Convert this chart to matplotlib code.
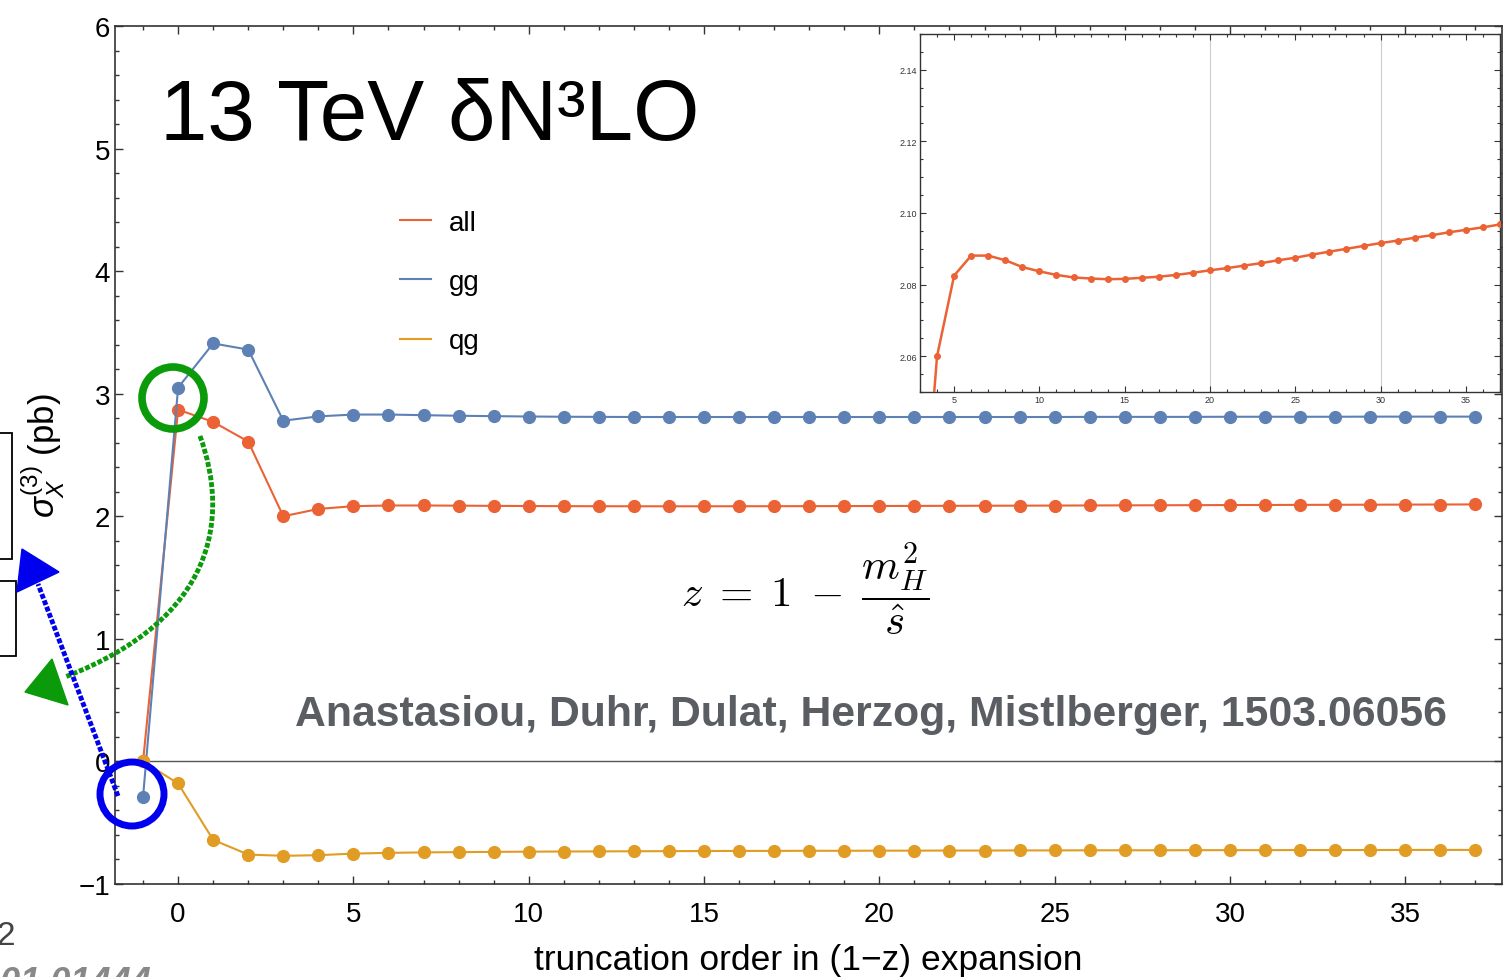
import matplotlib
matplotlib.use('Agg')
import matplotlib.pyplot as plt
from matplotlib.lines import Line2D
from matplotlib.patches import Circle, Polygon, Rectangle, PathPatch
from matplotlib.path import Path
from matplotlib.ticker import MultipleLocator, FormatStrFormatter

# truncation order and cross sections (pb)
orders = list(range(-1, 38))
sigma_all = [0.0, 2.87, 2.77, 2.61, 2.00,
             2.0600, 2.0825, 2.0881, 2.0881, 2.0868, 2.0849, 2.0837, 2.0827, 2.0820, 2.0817,
             2.0815, 2.0816, 2.0819, 2.0822, 2.0827, 2.0833, 2.0840, 2.0846, 2.0853, 2.0860,
             2.0868, 2.0875, 2.0884, 2.0892, 2.0900, 2.0908, 2.0916, 2.0923, 2.0931, 2.0938,
             2.0946, 2.0953, 2.0960, 2.0968]
sigma_gg = [-0.29, 3.05, 3.41, 3.36, 2.78,
            2.815, 2.830, 2.830, 2.825, 2.820, 2.817, 2.814, 2.812, 2.811, 2.810,
            2.810, 2.810, 2.810, 2.810, 2.810, 2.810, 2.810, 2.810, 2.810, 2.810,
            2.810, 2.810, 2.811, 2.811, 2.811, 2.811, 2.812, 2.812, 2.812, 2.812,
            2.813, 2.813, 2.813, 2.813]
sigma_qg = [0.0, -0.18, -0.64, -0.76, -0.77,
            -0.765, -0.752, -0.746, -0.742, -0.740, -0.738, -0.736, -0.735, -0.734, -0.733,
            -0.732, -0.731, -0.730, -0.730, -0.729, -0.729, -0.728, -0.728, -0.727, -0.727,
            -0.726, -0.726, -0.725, -0.725, -0.725, -0.724, -0.724, -0.724, -0.723, -0.723,
            -0.723, -0.722, -0.722, -0.722]
series = [('all', sigma_all, '#EB6235'), ('gg', sigma_gg, '#5E81B5'), ('qg', sigma_qg, '#E19C24')]
inset_start = 4          # index of order 3 in orders
inset_gridlines = [20, 30]

plt.rcParams['font.family'] = ['Liberation Sans', 'DejaVu Sans']
plt.rcParams['mathtext.fontset'] = 'custom'
plt.rcParams['mathtext.rm'] = 'Liberation Sans'
plt.rcParams['mathtext.it'] = 'Liberation Sans:italic'

W, H = 1508, 978
fig = plt.figure(figsize=(W / 100, H / 100), dpi=100)


def px(x, y):
    return x / W, 1 - y / H


def inch(x, y):
    return x / 100, (H - y) / 100


frame = '#333333'

ax = fig.add_axes([115 / W, 1 - 885 / H, 1387 / W, 858 / H])
ax.axhline(0, color='#555555', lw=1.0, zorder=1)
for name, vals, col in series:
    ax.plot(orders, vals, '-o', color=col, lw=1.5, ms=8.5, zorder=3)
ax.set_xlim(-1.8, 37.76)
ax.set_ylim(-1, 6)
ax.xaxis.set_major_locator(MultipleLocator(5))
ax.xaxis.set_minor_locator(MultipleLocator(1))
ax.yaxis.set_major_locator(MultipleLocator(1))
ax.yaxis.set_minor_locator(MultipleLocator(0.2))
ax.tick_params(which='both', direction='in', top=True, right=True, color=frame, labelsize=20, width=1)
ax.tick_params(which='major', length=6)
ax.tick_params(which='minor', length=3)
ax.tick_params(axis='x', pad=12)
for s in ax.spines.values():
    s.set_color(frame)
    s.set_linewidth(1.2)

ax.set_xlabel('truncation order in (1\u2212z) expansion', fontsize=25.5, va='center')
ax.xaxis.set_label_coords(0.5, -0.0885)
ax.set_ylabel(r'$\sigma_X^{(3)}$ (pb)', fontsize=25, va='center', ha='center')
ax.yaxis.set_label_coords(-0.052, 0.5)

handles = [Line2D([], [], color=c, lw=1.5) for _, _, c in series]
ax.legend(handles, [n for n, _, _ in series], loc='center left', bbox_to_anchor=(0.2055, 0.7016),
          fontsize=20, frameon=False, handlelength=1.1, handletextpad=0.65, labelspacing=1.2,
          borderpad=0, borderaxespad=0)

# inset zoom on the "all" curve
axin = fig.add_axes([920 / W, 1 - 393 / H, 580 / W, 358 / H])
axin.set_facecolor('white')
for g in inset_gridlines:
    axin.axvline(g, color='#cccccc', lw=0.8, zorder=1)
axin.plot(orders[inset_start:], sigma_all[inset_start:], '-o', color='#EB6235', lw=1.8, ms=4, zorder=3)
axin.set_xlim(3, 37)
axin.set_ylim(2.05, 2.15)
axin.xaxis.set_major_locator(MultipleLocator(5))
axin.xaxis.set_minor_locator(MultipleLocator(1))
axin.yaxis.set_major_locator(MultipleLocator(0.02))
axin.yaxis.set_minor_locator(MultipleLocator(0.005))
axin.yaxis.set_major_formatter(FormatStrFormatter('%.2f'))
axin.tick_params(which='both', direction='in', top=True, right=True, color=frame, labelsize=6.5,
                 labelcolor='#333333', pad=2, width=0.8)
axin.tick_params(which='major', length=4)
axin.tick_params(which='minor', length=2)
for s in axin.spines.values():
    s.set_color(frame)
    s.set_linewidth(1.0)

# slide texts
fig.text(*px(160, 140), '13 TeV \u03b4N\u00b3LO', fontsize=61.5, va='baseline', ha='left')
fig.text(*px(295, 726), 'Anastasiou, Duhr, Dulat, Herzog, Mistlberger, 1503.06056',
         fontsize=30.8, fontweight='bold', color='#5a5e63', va='baseline', ha='left')
fig.text(*px(805, 590), r'$z\;=\;1\;-\;\dfrac{m_H^2}{\hat{s}}$', math_fontfamily='cm',
         fontsize=31, ha='center', va='center')

# pieces of neighbouring slide content cut off at the left edge
for x0, y0, x1, y1 in [(-5, 434, 12, 560), (-5, 582, 16, 657)]:
    fig.add_artist(Rectangle(inch(x0, y1), (x1 - x0) / 100, (y1 - y0) / 100, fill=False,
                             ec='black', lw=1.3, transform=fig.dpi_scale_trans))
fig.text(*px(-4, 945), '2', fontsize=24, color='#444444', va='baseline')
fig.text(*px(0, 966), '01 01444', fontsize=26, color='#888888', va='top', style='italic',
         fontweight='bold')

# hand-drawn annotations
green, blue = '#0a9a0a', '#0000ee'
fig.add_artist(Circle(inch(173, 399), 0.31, fill=False, ec=green, lw=5.5, transform=fig.dpi_scale_trans))
fig.add_artist(Circle(inch(132, 795), 0.32, fill=False, ec=blue, lw=5, transform=fig.dpi_scale_trans))
curve = Path([inch(200, 437), inch(230, 520), inch(215, 620), inch(65, 678)],
             [Path.MOVETO, Path.CURVE4, Path.CURVE4, Path.CURVE4])
fig.add_artist(PathPatch(curve, fill=False, ec=green, lw=3.5, ls=(0, (1, 0.4)),
                         transform=fig.dpi_scale_trans))
fig.add_artist(Polygon([inch(52, 660), inch(25, 693), inch(68, 706)], closed=True, fc=green, ec=green,
                       lw=1, transform=fig.dpi_scale_trans))
fig.add_artist(Line2D([118 / 100, 38 / 100], [(H - 797) / 100, (H - 585) / 100], color=blue, lw=3.5,
                      ls=(0, (1, 0.4)), transform=fig.dpi_scale_trans))
fig.add_artist(Polygon([inch(22, 550), inch(59, 573), inch(17, 593)], closed=True, fc=blue, ec=blue,
                       lw=1, transform=fig.dpi_scale_trans))

fig.savefig('out.png', dpi=100)
